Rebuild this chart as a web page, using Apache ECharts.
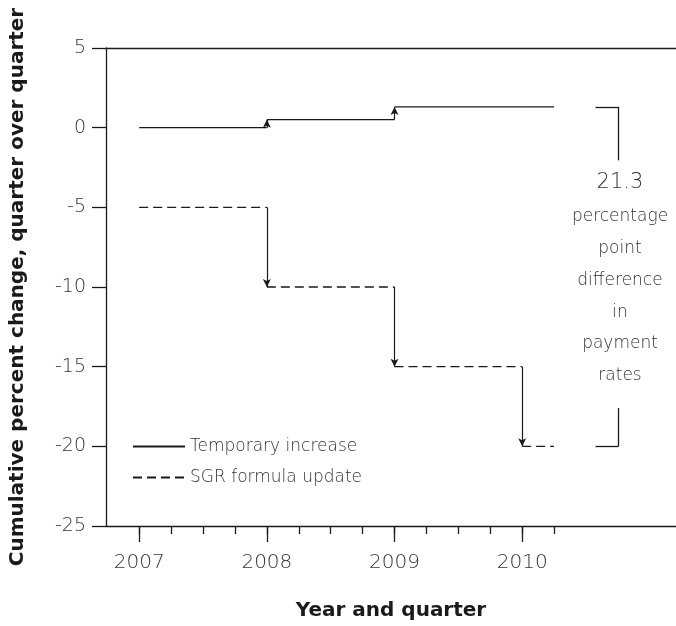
<!DOCTYPE html>
<html>
<head>
<meta charset="utf-8">
<script src="https://cdn.jsdelivr.net/npm/echarts@6/dist/echarts.min.js"></script>
<style>html,body{margin:0;padding:0;background:#fff;}#c{width:676px;height:626px;}</style>
</head>
<body>
<div id="c"></div>
<script>
// ---- data ----
const stepYears = [2007, 2008, 2009, 2010];
const lineEndYear = 2010.25;
const temporaryIncrease = [0, 0.5, 1.3, 1.3];
const sgrFormulaUpdate = [-5, -10, -15, -20];
const yearLabels = [2007, 2008, 2009, 2010];
const quarterTicks = [2007, 2007.25, 2007.5, 2007.75, 2008, 2008.25, 2008.5, 2008.75, 2009, 2009.25, 2009.5, 2009.75, 2010, 2010.25];
const annotationLines = ['21.3', 'percentage', 'point', 'difference', 'in', 'payment', 'rates'];

const FONT = '"DejaVu Sans"';
const INK = '#1a1a1a';
const TXT = '#333';
const LIGHT = 200;

function stepData(levels) {
  const d = [];
  for (let i = 0; i < levels.length; i++) {
    const x0 = stepYears[i];
    const x1 = i < levels.length - 1 ? stepYears[i + 1] : lineEndYear;
    d.push([x0, levels[i]], [x1, levels[i]], [x1, '-']);
  }
  return d;
}
function arrowData(levels) {
  const d = [];
  for (let i = 1; i < levels.length; i++) {
    if (levels[i] !== levels[i - 1]) {
      d.push([{ coord: [stepYears[i], levels[i - 1]] }, { coord: [stepYears[i], levels[i]] }]);
    }
  }
  return d;
}
function arrowMark(levels) {
  return {
    silent: true,
    symbol: ['none', 'arrow'],
    symbolSize: [6, 8],
    label: { show: false },
    lineStyle: { color: INK, width: 1.2, type: 'solid' },
    emphasis: { disabled: true },
    data: arrowData(levels)
  };
}

const xMin = 2006.74, xMax = 2011.205;
const chart = echarts.init(document.getElementById('c'), null, { renderer: 'canvas' });
chart.setOption({
  animation: false,
  textStyle: { fontFamily: FONT },
  grid: { left: 102, right: 0, top: 48, bottom: 97.5 },
  xAxis: [
    {
      type: 'value', position: 'bottom', min: xMin, max: xMax,
      name: 'Year and quarter', nameLocation: 'middle', nameGap: 75,
      nameTextStyle: { fontSize: 20, fontWeight: 'bold', color: INK, fontFamily: FONT },
      axisLine: { show: true, onZero: false, lineStyle: { color: INK, width: 1.3 } },
      axisTick: { show: true, customValues: yearLabels, length: 16, lineStyle: { color: INK, width: 1.3 } },
      axisLabel: { customValues: yearLabels, fontSize: 20, color: TXT, margin: 27, fontFamily: FONT, fontWeight: LIGHT, formatter: v => String(Math.round(v)) },
      splitLine: { show: false }
    },
    {
      type: 'value', position: 'bottom', min: xMin, max: xMax, offset: 0,
      axisLine: { show: false, onZero: false },
      axisTick: { show: true, customValues: quarterTicks, length: 8, lineStyle: { color: INK, width: 1.3 } },
      axisLabel: { show: false },
      splitLine: { show: false }
    }
  ],
  yAxis: {
    type: 'value', min: -25, max: 5, interval: 5,
    name: 'Cumulative percent change, quarter over quarter',
    nameLocation: 'middle', nameGap: 78,
    nameTextStyle: { fontSize: 20, fontWeight: 'bold', color: INK, fontFamily: FONT },
    axisLine: { show: true, onZero: false, lineStyle: { color: INK, width: 1.3 } },
    axisTick: { show: true, length: 14, lineStyle: { color: INK, width: 1.3 } },
    axisLabel: { fontSize: 19, color: TXT, margin: 20, fontFamily: FONT, fontWeight: LIGHT },
    splitLine: { show: false }
  },
  legend: {
    orient: 'vertical', left: 127, top: 433, itemWidth: 52, itemHeight: 14, itemGap: 14,
    itemStyle: { opacity: 0 },
    textStyle: { fontSize: 17, color: TXT, fontFamily: FONT, fontWeight: LIGHT },
    data: ['Temporary increase', 'SGR formula update']
  },
  series: [
    {
      name: 'Temporary increase', type: 'line', symbol: 'none', xAxisIndex: 0,
      lineStyle: { color: INK, width: 1.3, type: 'solid' }, itemStyle: { color: INK },
      data: stepData(temporaryIncrease),
      markLine: arrowMark(temporaryIncrease)
    },
    {
      name: 'SGR formula update', type: 'line', symbol: 'none', xAxisIndex: 0,
      lineStyle: { color: INK, width: 1.3, type: [9, 5] }, itemStyle: { color: INK },
      data: stepData(sgrFormulaUpdate),
      markLine: arrowMark(sgrFormulaUpdate)
    },
    {
      name: 'frame', type: 'line', data: [], xAxisIndex: 0,
      markLine: {
        silent: true, symbol: ['none', 'none'], label: { show: false },
        lineStyle: { color: INK, width: 1.3, type: 'solid' },
        data: [
          { yAxis: 5 },
          [{ coord: [2010.575, 1.3] }, { coord: [2010.755, 1.3] }],
          [{ coord: [2010.755, 1.3] }, { coord: [2010.755, -2.05] }],
          [{ coord: [2010.755, -17.6] }, { coord: [2010.755, -20] }],
          [{ coord: [2010.575, -20] }, { coord: [2010.755, -20] }]
        ]
      }
    }
  ],
  graphic: annotationLines.map((t, i) => ({
    type: 'text',
    x: 620, y: (i === 0 ? 183 : 217 + (i - 1) * 31.7),
    style: { text: t, font: LIGHT + ' ' + (i === 0 ? '21px ' : '17px ') + FONT, fill: TXT, textAlign: 'center', textVerticalAlign: 'middle' }
  }))
});
</script>
</body>
</html>
